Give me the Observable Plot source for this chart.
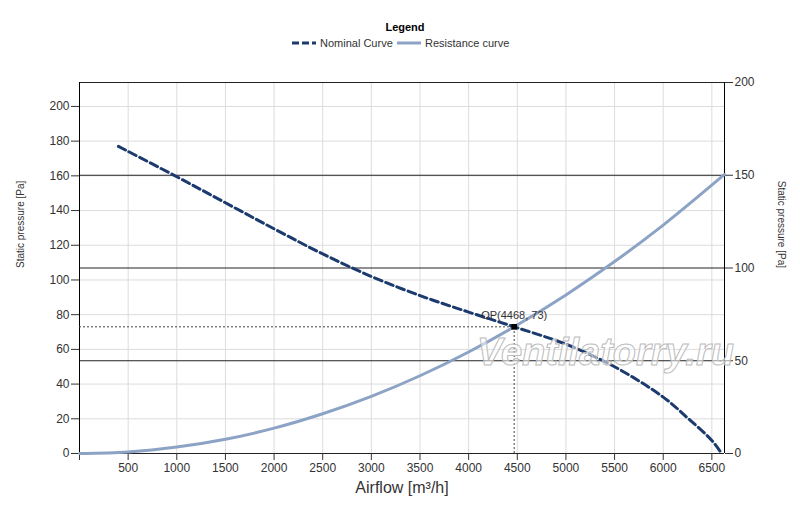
<!DOCTYPE html>
<html>
<head>
<meta charset="utf-8">
<script src="https://cdn.jsdelivr.net/npm/d3@7"></script>
<script src="https://cdn.jsdelivr.net/npm/@observablehq/plot@0.6"></script>
<style>
  html, body { margin: 0; padding: 0; background: #fff; }
  #wrap { position: relative; width: 800px; height: 507px; font-family: "Liberation Sans", Arial, sans-serif; }
  #legend { position: relative; height: 56px; }
  #legend .title { position: absolute; left: 0; width: 810px; top: 21px; text-align: center; font-weight: bold; font-size: 11px; color: #000; }
  #legend .item { position: absolute; top: 37px; font-size: 11px; color: #333; display: flex; align-items: center; }
  #legend svg { margin-right: 4px; }
  #watermark { position: absolute; left: 477px; top: 331px; font-size: 38px; font-weight: bold; font-style: italic;
    color: rgba(255,255,255,0.55); -webkit-text-stroke: 1px #bcbcbc; pointer-events: none; }
</style>
</head>
<body>
<div id="wrap">
  <div id="legend">
    <div class="title">Legend</div>
    <div class="item" style="left:292px"><svg width="24" height="6"><line x1="0" y1="3" x2="24" y2="3" stroke="#1b3a6e" stroke-width="3" stroke-dasharray="7,3"/></svg>Nominal Curve</div>
    <div class="item" style="left:397px"><svg width="24" height="6"><line x1="0" y1="3" x2="24" y2="3" stroke="#8da3c5" stroke-width="3"/></svg>Resistance curve</div>
  </div>
  <div id="chart"></div>
  <div id="watermark">Ventilatorry.ru</div>
</div>
<script>
// ---- data ----
const xTicks = [500, 1000, 1500, 2000, 2500, 3000, 3500, 4000, 4500, 5000, 5500, 6000, 6500];
const leftTicks = [0, 20, 40, 60, 80, 100, 120, 140, 160, 180, 200];
const rightTicks = [0, 50, 100, 150, 200];

const nominalQ = [400, 1000, 1500, 2000, 2500, 3000, 3500, 4000, 4468, 5000, 5500, 6000, 6250, 6500, 6600];
const nominalP = [177, 159.5, 144.5, 129.5, 115, 102, 91, 81.5, 73, 63, 50, 32.5, 20.5, 7.5, 0];

const resistQ = [0, 500, 1000, 1500, 2000, 2500, 3000, 3500, 4000, 4468, 5000, 5500, 6000, 6630];
const resistP = [0, 0.9, 3.7, 8.2, 14.6, 22.9, 32.9, 44.8, 58.5, 73, 91.4, 110.6, 131.6, 160.8];

const opQ = 4468, opP = 73;
const opLabel = "OP(4468, 73)";

const xMax = 6630;
const leftMax = 213.8;
const rightMax = 200;

// ---- build ----
const nominal = nominalQ.map((q, i) => ({q, p: nominalP[i]}));
const resist = resistQ.map((q, i) => ({q, p: resistP[i]}));
const toLeft = v => v * leftMax / rightMax;
const rightPos = rightTicks.map(toLeft);
const rightLabel = new Map(rightPos.map((p, i) => [p, String(rightTicks[i])]));

const chart = Plot.plot({
  width: 800,
  height: 451,
  marginTop: 26,
  marginBottom: 54,
  marginLeft: 79,
  marginRight: 76,
  style: {fontFamily: "'Liberation Sans', Arial, sans-serif", fontSize: "12px", color: "#333", background: "#fff"},
  x: {domain: [0, xMax]},
  y: {domain: [0, leftMax]},
  marks: [
    Plot.gridX(xTicks, {stroke: "#dcdcdc", strokeOpacity: 1}),
    Plot.gridY(leftTicks.filter(d => d > 0), {stroke: "#dcdcdc", strokeOpacity: 1}),
    Plot.ruleY(rightPos, {stroke: "#222", strokeWidth: 1}),
    Plot.ruleX([0, xMax], {stroke: "#000", strokeWidth: 1}),
    Plot.axisX([0, ...xTicks], {tickSize: 7, tickPadding: 3, stroke: "#333", tickFormat: d => d === 0 ? "" : String(d), label: null, fontSize: 12}),
    Plot.axisY(leftTicks, {anchor: "left", tickSize: 8, tickPadding: 2, stroke: "#333", label: null, fontSize: 12}),
    Plot.axisY(rightPos, {anchor: "right", tickSize: 8, tickPadding: 2, stroke: "#333", tickFormat: d => rightLabel.get(d), label: null, fontSize: 12}),
    Plot.ruleY([opP], {x1: 0, x2: opQ, stroke: "#444", strokeWidth: 1, strokeDasharray: "2,2"}),
    Plot.ruleX([opQ], {y1: 0, y2: opP, stroke: "#444", strokeWidth: 1, strokeDasharray: "2,2"}),
    Plot.line(resist, {x: "q", y: "p", stroke: "#8da3c5", strokeWidth: 3, curve: "catmull-rom"}),
    Plot.line(nominal, {x: "q", y: "p", stroke: "#1b3a6e", strokeWidth: 3, strokeDasharray: "8,4", curve: "catmull-rom"}),
    Plot.dot([{q: opQ, p: opP}], {x: "q", y: "p", symbol: "square", r: 3.2, fill: "#000"}),
    Plot.text([{q: opQ, p: opP, t: opLabel}], {x: "q", y: "p", text: "t", dy: -11, fontSize: 11, fill: "#333"}),
    Plot.text(["Static pressure [Pa]"], {frameAnchor: "left", rotate: -90, dx: -59, fontSize: 10, fill: "#333"}),
    Plot.text(["Static pressure [Pa]"], {frameAnchor: "right", rotate: 90, dx: 57, fontSize: 10, fill: "#333"}),
    Plot.text(["Airflow [m³/h]"], {frameAnchor: "bottom", dy: 39, fontSize: 16, fill: "#333"})
  ]
});
document.getElementById("chart").appendChild(chart);
</script>
</body>
</html>
